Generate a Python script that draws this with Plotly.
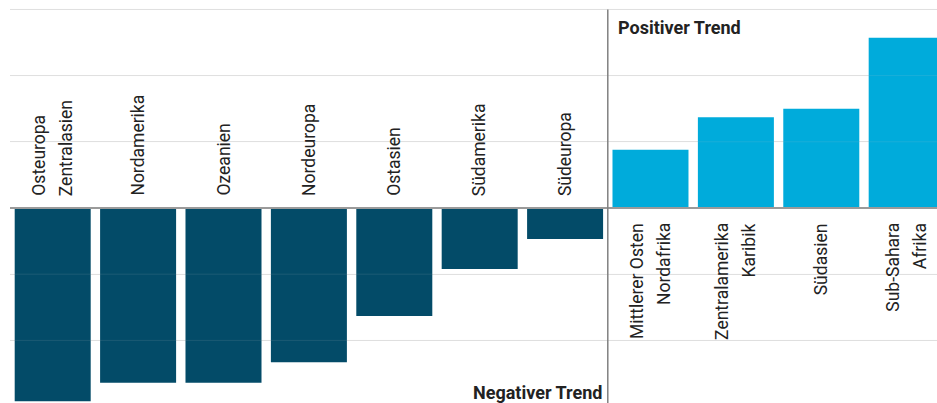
import plotly.graph_objects as go

# Regions, left to right; each label split into its display lines
regions = [
    ["Osteuropa", "Zentralasien"],
    ["Nordamerika"],
    ["Ozeanien"],
    ["Nordeuropa"],
    ["Ostasien"],
    ["Südamerika"],
    ["Südeuropa"],
    ["Mittlerer Osten", "Nordafrika"],
    ["Zentralamerika", "Karibik"],
    ["Südasien"],
    ["Sub-Sahara", "Afrika"],
]
trend = [-2.92, -2.64, -2.64, -2.33, -1.63, -0.92, -0.47, 0.88, 1.37, 1.50, 2.57]
grid_values = [-2, -1, 1, 2, 3]

NEG_COLOR = "#034b68"
POS_COLOR = "#00abdb"
TEXT_COLOR = "#222222"
FONT = "Roboto"

x_idx = list(range(len(regions)))
names = [" ".join(r) for r in regions]
colors = [POS_COLOR if v > 0 else NEG_COLOR for v in trend]

fig = go.Figure(
    go.Bar(
        x=x_idx,
        y=trend,
        marker=dict(color=colors, line=dict(width=0)),
        hovertext=names,
        hovertemplate="%{hovertext}: %{y}<extra></extra>",
    )
)

annotations = []
line_gap = 27
for i, (lines, v) in enumerate(zip(regions, trend)):
    n = len(lines)
    for j, txt in enumerate(lines):
        shift = (j - (n - 1) / 2) * line_gap
        annotations.append(
            dict(
                x=i,
                y=0,
                xref="x",
                yref="y",
                text=txt,
                textangle=-90,
                showarrow=False,
                xanchor="center",
                yanchor="bottom" if v < 0 else "top",
                xshift=shift,
                yshift=10 if v < 0 else -13,
                font=dict(family=FONT, size=17.5, color=TEXT_COLOR),
            )
        )

split_x = 6.5
annotations.append(
    dict(x=split_x, y=2.73, xref="x", yref="y", text="<b>Positiver Trend</b>",
         showarrow=False, xanchor="left", yanchor="middle", xshift=8,
         font=dict(family=FONT, size=18, color=TEXT_COLOR))
)
annotations.append(
    dict(x=split_x, y=-2.78, xref="x", yref="y", text="<b>Negativer Trend</b>",
         showarrow=False, xanchor="right", yanchor="middle", xshift=-4,
         font=dict(family=FONT, size=18, color=TEXT_COLOR))
)

shapes = [
    # faint grid lines drawn over the bars
    dict(type="line", xref="paper", x0=0, x1=1, yref="y", y0=g, y1=g,
         layer="above", line=dict(color="rgba(200,200,200,0.13)", width=1))
    for g in grid_values
]
shapes.append(
    dict(type="line", xref="paper", x0=0, x1=1, yref="y", y0=0, y1=0,
         layer="above", line=dict(color="#9a9a9a", width=2))
)
shapes.append(
    dict(type="line", xref="x", x0=split_x, x1=split_x, yref="y", y0=3, y1=-3.2,
         layer="above", line=dict(color="#808080", width=1.5))
)

fig.update_layout(
    width=937,
    height=403,
    margin=dict(l=10, r=0, t=0, b=0),
    paper_bgcolor="white",
    plot_bgcolor="white",
    bargap=0.11,
    showlegend=False,
    xaxis=dict(range=[-0.5, 10.355], showticklabels=False, showgrid=False,
               zeroline=False, showline=False, ticks=""),
    yaxis=dict(range=[-2.946, 3.142], dtick=1, tick0=0, showticklabels=False,
               showgrid=True, gridcolor="#e3e3e3", gridwidth=1,
               zeroline=False, showline=False, ticks=""),
    annotations=annotations,
    shapes=shapes,
)

# page body has a default 8px margin; drop it so the figure sits at 0,0
fig.write_html(
    "out.html",
    config={"displayModeBar": False},
    post_script="document.body.style.margin='0';",
)
